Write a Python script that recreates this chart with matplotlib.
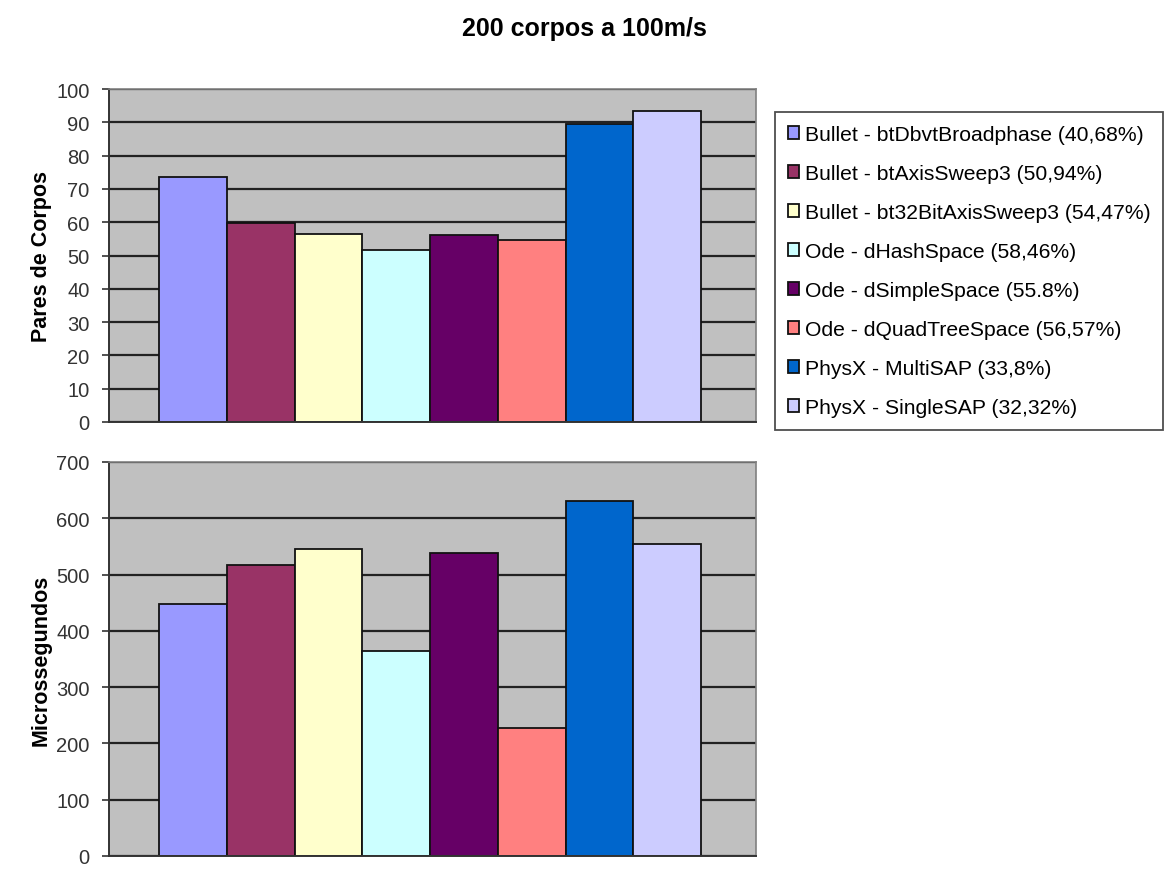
import matplotlib
matplotlib.use("Agg")
import matplotlib.pyplot as plt

# data
labels = [
    "Bullet - btDbvtBroadphase (40,68%)",
    "Bullet - btAxisSweep3 (50,94%)",
    "Bullet - bt32BitAxisSweep3 (54,47%)",
    "Ode - dHashSpace (58,46%)",
    "Ode - dSimpleSpace (55.8%)",
    "Ode - dQuadTreeSpace (56,57%)",
    "PhysX - MultiSAP (33,8%)",
    "PhysX - SingleSAP (32,32%)",
]
pares = [73.5, 59.7, 56.6, 51.7, 56.1, 54.8, 89.4, 93.3]
micro = [447, 517, 545, 365, 539, 228, 630, 554]
colors = ["#9999FF", "#993366", "#FFFFCC", "#CCFFFF",
          "#660066", "#FF8080", "#0066CC", "#CCCCFF"]

plt.rcParams["font.family"] = ["Liberation Sans", "DejaVu Sans"]

W, H = 1168, 870
fig = plt.figure(figsize=(W / 100, H / 100), dpi=100)

# axes placed in pixel terms of the reference
left, right = 109, 756
ax1 = fig.add_axes([left / W, 1 - 423 / H, (right - left) / W, (423 - 90) / H])
ax2 = fig.add_axes([left / W, 1 - 857 / H, (right - left) / W, (857 - 463) / H])

x = list(range(len(labels)))


def style(ax, ymax, step, ylabel):
    ax.set_facecolor("#C0C0C0")
    ax.set_xlim(-1.24, 8.31)
    ax.set_ylim(0, ymax)
    ax.set_yticks(range(0, ymax + 1, step))
    ax.yaxis.grid(True, color="#222222", linewidth=1.6)
    ax.set_axisbelow(True)
    ax.set_xticks([])
    ax.tick_params(axis="y", labelsize=14.5, length=5, width=1.2, pad=9,
                   colors="#333333", labelcolor="#333333")
    for s in ["top", "right"]:
        ax.spines[s].set_color("#808080")
        ax.spines[s].set_linewidth(1.2)
    for s in ["left", "bottom"]:
        ax.spines[s].set_color("#333333")
        ax.spines[s].set_linewidth(1.4)
    ax.set_ylabel(ylabel, fontsize=15.5, fontweight="bold", labelpad=3)


bars = ax1.bar(x, pares, width=1.0, color=colors, edgecolor="#111111",
               linewidth=1.3, label=labels)
style(ax1, 100, 10, "Pares de Corpos")

ax2.bar(x, micro, width=1.0, color=colors, edgecolor="#111111", linewidth=1.3)
style(ax2, 700, 100, "Microssegundos")

fig.suptitle("200 corpos a 100m/s", x=0.5, y=1 - 17 / H, fontsize=18,
             fontweight="bold", va="top")

leg = fig.legend(bars, labels, loc="upper left",
                 bbox_to_anchor=(775 / W, 1 - 113 / H), borderaxespad=0,
                 fontsize=15.2, frameon=True, fancybox=False,
                 handlelength=0.55, handleheight=0.55, handletextpad=0.25,
                 labelspacing=0.95, borderpad=0.6)
leg.get_frame().set_edgecolor("#222222")
leg.get_frame().set_linewidth(1.3)

fig.savefig("out.png", dpi=100)
